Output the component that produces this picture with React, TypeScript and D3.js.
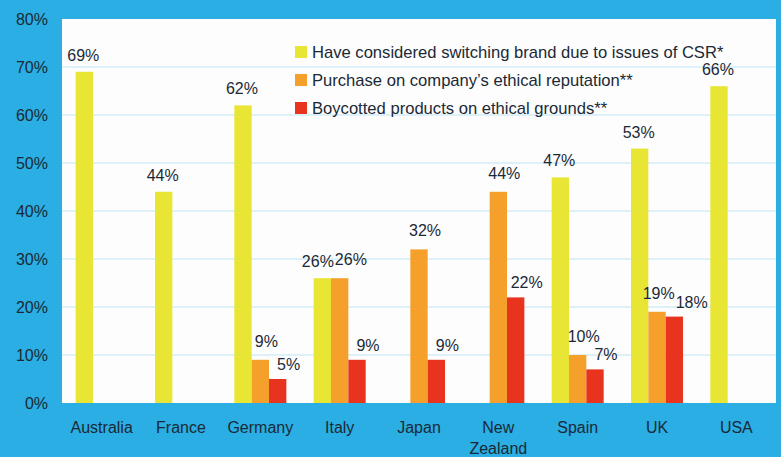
import React from 'react';
import * as d3 from 'd3';

// chart data (percent)
const countries = ['Australia', 'France', 'Germany', 'Italy', 'Japan', 'New Zealand', 'Spain', 'UK', 'USA'];
const switching = [69, 44, 62, 26, null, null, 47, 53, 66];
const ethicalPurchase = [null, null, 9, 26, 32, 44, 10, 19, null];
const boycotted = [null, null, 5, 9, 9, 22, 7, 18, null];
const seriesNames = [
	'Have considered switching brand due to issues of CSR*',
	'Purchase on company\u2019s ethical reputation**',
	'Boycotted products on ethical grounds**',
];
const yTicks = [0, 10, 20, 30, 40, 50, 60, 70, 80];

const W = 781;
const H = 457;
const margin = { top: 19, right: 5, bottom: 54, left: 62 };
const colors = ['#e9e535', '#f5a02a', '#e8341f'];
const labelDx = [-1, 6, 11];
const labelDy = [-11, -13, -9];
const labelSize = 16;
const textColor = '#1b2936';
const font = '"Liberation Sans", Arial, Helvetica, sans-serif';

const fmt = (v: number) => `${v}%`;

export default function App() {
	const series = [switching, ethicalPurchase, boycotted];

	const x0 = d3.scaleBand<string>()
		.domain(countries)
		.range([margin.left, W - margin.right])
		.paddingInner(0.344)
		.paddingOuter(0.172);

	const x1 = d3.scaleBand<number>()
		.domain([0, 1, 2])
		.range([0, x0.bandwidth()]);

	const y = d3.scaleLinear()
		.domain([0, 80])
		.range([H - margin.bottom, margin.top]);

	// value labels, pushed apart sideways when two in a group collide
	const labels: { key: string; x: number; y: number; text: string }[] = [];
	countries.forEach((c, ci) => {
		const group: { key: string; x: number; y: number; text: string; w: number }[] = [];
		series.forEach((s, si) => {
			const v = s[ci];
			if (v == null) return;
			const text = fmt(v);
			group.push({
				key: `${c}-${si}`,
				x: (x0(c) as number) + (x1(si) as number) + x1.bandwidth() / 2 + labelDx[si],
				y: y(v) + labelDy[si],
				text,
				w: (text.length - 1) * 0.556 * labelSize + 0.889 * labelSize,
			});
		});
		for (let i = 1; i < group.length; i++) {
			const a = group[i - 1];
			const b = group[i];
			const overlapX = (a.w + b.w) / 2 + 1 - (b.x - a.x);
			const overlapY = Math.abs(a.y - b.y) < labelSize * 0.8;
			if (overlapX > 0 && overlapY) {
				a.x -= overlapX * 0.4;
				b.x += overlapX * 0.6;
			}
		}
		group.forEach((g) => labels.push(g));
	});

	return (
		<svg
			width={W}
			height={H}
			style={{ position: 'absolute', left: 0, top: 0, display: 'block' }}
			fontFamily={font}
		>
			{/* background */}
			<rect x={0} y={0} width={W} height={H} fill="#2aaee3" />
			<rect
				x={margin.left}
				y={margin.top}
				width={W - margin.right - margin.left}
				height={y(0) - margin.top}
				fill="#fdfdfd"
			/>

			{/* grid */}
			{yTicks.slice(1, -1).map((t) => (
				<line
					key={t}
					x1={margin.left}
					x2={W - margin.right}
					y1={y(t)}
					y2={y(t)}
					stroke="#bfe3f4"
					strokeWidth={1.2}
				/>
			))}

			{/* y axis labels */}
			{yTicks.map((t) => (
				<text
					key={t}
					x={48}
					y={y(t)}
					dy="0.35em"
					textAnchor="end"
					fontSize={16}
					fill={textColor}
				>
					{fmt(t)}
				</text>
			))}

			{/* bars */}
			{countries.map((c, ci) => (
				<g key={c} transform={`translate(${x0(c)},0)`}>
					{series.map((s, si) => {
						const v = s[ci];
						if (v == null) return null;
						return (
							<rect
								key={si}
								x={x1(si)}
								y={y(v)}
								width={x1.bandwidth()}
								height={y(0) - y(v)}
								fill={colors[si]}
							/>
						);
					})}
				</g>
			))}

			{/* value labels */}
			{labels.map((l) => (
				<text
					key={l.key}
					x={l.x}
					y={l.y}
					textAnchor="middle"
					fontSize={labelSize}
					fill={textColor}
				>
					{l.text}
				</text>
			))}

			{/* x axis labels */}
			{countries.map((c) => {
				const cx = (x0(c) as number) + x0.bandwidth() / 2;
				return (
					<text key={c} x={cx} y={433} textAnchor="middle" fontSize={16} fill={textColor}>
						{c.split(' ').map((l, i) => (
							<tspan key={l} x={cx} dy={i === 0 ? 0 : 21}>
								{l}
							</tspan>
						))}
					</text>
				);
			})}

			{/* legend */}
			<g transform="translate(295,46)">
				{seriesNames.map((n, i) => (
					<g key={n} transform={`translate(0,${i * 28})`}>
						<rect x={0} y={0} width={12} height={12} fill={colors[i]} />
						<text x={17} y={6} dy="0.35em" fontSize={16.6} fill={textColor}>
							{n}
						</text>
					</g>
				))}
			</g>
		</svg>
	);
}
